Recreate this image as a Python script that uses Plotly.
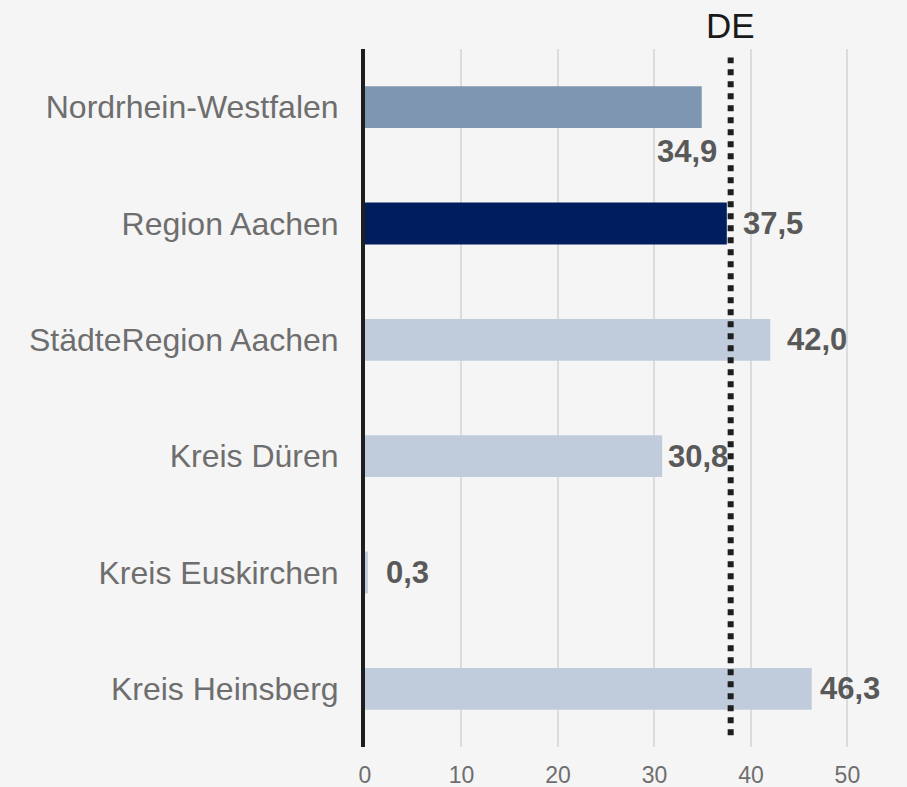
import plotly.graph_objects as go

# values
regions = [
    "Nordrhein-Westfalen",
    "Region Aachen",
    "StädteRegion Aachen",
    "Kreis Düren",
    "Kreis Euskirchen",
    "Kreis Heinsberg",
]
values = [34.9, 37.5, 42.0, 30.8, 0.3, 46.3]
de_value = 37.9
de_label = "DE"
x_ticks = [0, 10, 20, 30, 40, 50]

# presentation
BG = "#f5f5f5"
NRW_BLUE = "#7f96b0"
NAVY = "#001e5e"
LIGHT = "#c0ccdb"
LABEL_INK = "#595959"
TICK_INK = "#6e6e6e"
INK = "#1e1e1e"
GRID = "#dcdcdc"
FONT = "Liberation Sans, Arial, sans-serif"

bar_colors = [NRW_BLUE, NAVY, LIGHT, LIGHT, LIGHT, LIGHT]
# (xshift, yshift, xanchor) of each value label relative to the bar end
label_offsets = [(-15, -44, "center"), (14, 0, "left"), (15, 0, "left"),
                 (4, 0, "left"), (16, 0, "left"), (6, 0, "left")]


def fmt(v: float) -> str:
    return f"{v:.1f}".replace(".", ",")


fig = go.Figure()
fig.add_trace(
    go.Bar(
        x=values, y=regions, orientation="h", width=0.36,
        marker=dict(color=bar_colors, line=dict(width=0)),
        hoverinfo="skip", showlegend=False,
    )
)

for region, v, (dx, dy, anchor) in zip(regions, values, label_offsets):
    fig.add_annotation(
        x=v, y=region, text=f"<b>{fmt(v)}</b>", showarrow=False,
        xanchor=anchor, yanchor="middle", xshift=dx, yshift=dy,
        font=dict(family=FONT, size=31, color=LABEL_INK),
    )

# Germany reference line
fig.add_shape(
    type="line", xref="x", yref="paper", x0=de_value, x1=de_value, y0=0.017, y1=0.988,
    line=dict(color=INK, width=6, dash="dot"), layer="above",
)
fig.add_annotation(
    x=de_value, y=1, xref="x", yref="paper", text=de_label, showarrow=False,
    xanchor="center", yanchor="bottom", yshift=2,
    font=dict(family=FONT, size=35, color="#1a1a1a"),
)

fig.update_layout(
    width=907, height=787,
    margin=dict(l=365, r=21, t=49, b=40),
    paper_bgcolor=BG, plot_bgcolor=BG,
    font=dict(family=FONT),
)
fig.update_xaxes(
    range=[0, 54], tickvals=x_ticks, ticktext=[str(t) for t in x_ticks],
    showgrid=True, gridcolor=GRID, gridwidth=2, zeroline=False,
    showline=False, ticks="", ticklabelstandoff=12, automargin=False,
    tickfont=dict(family=FONT, size=23, color=TICK_INK),
)
fig.update_yaxes(
    type="category", categoryorder="array", categoryarray=regions,
    range=[len(regions) - 0.5, -0.5],
    showgrid=False, zeroline=False,
    showline=True, linecolor=INK, linewidth=4,
    ticks="", ticklabelstandoff=16, automargin=False,
    tickfont=dict(family=FONT, size=32, color=TICK_INK),
)

# drop the browser's default body margin so the 907x787 figure fills the window
fig.write_html(
    "out.html",
    config={"displayModeBar": False},
    post_script="document.body.style.margin = '0';",
)
